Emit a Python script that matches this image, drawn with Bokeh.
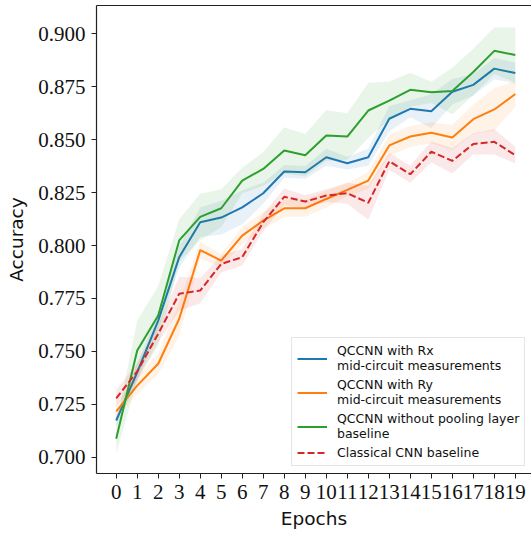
from bokeh.plotting import figure
from bokeh.models import (Range1d, FixedTicker, PrintfTickFormatter, Legend,
                          LegendItem, LinearAxis)
from bokeh.embed import file_html
from bokeh.resources import INLINE

epochs = list(range(20))

rx_mean = [0.7173, 0.7401, 0.7645, 0.7945, 0.8110, 0.8132, 0.8180, 0.8247, 0.8350, 0.8346,
           0.8417, 0.8389, 0.8417, 0.8599, 0.8646, 0.8635, 0.8727, 0.8759, 0.8836, 0.8815]
rx_std = [0.003, 0.004, 0.004, 0.005, 0.007, 0.008, 0.008, 0.005, 0.003, 0.003,
          0.004, 0.003, 0.004, 0.006, 0.004, 0.008, 0.006, 0.005, 0.005, 0.005]

ry_mean = [0.7216, 0.7338, 0.7441, 0.7654, 0.7978, 0.7929, 0.8047, 0.8118, 0.8176, 0.8176,
           0.8220, 0.8263, 0.8307, 0.8473, 0.8515, 0.8533, 0.8510, 0.8597, 0.8643, 0.8716]
ry_std = [0.003, 0.004, 0.005, 0.008, 0.004, 0.003, 0.004, 0.004, 0.004, 0.004,
          0.004, 0.003, 0.004, 0.005, 0.005, 0.005, 0.006, 0.007, 0.010, 0.006]

nopool_mean = [0.7087, 0.7504, 0.7669, 0.8024, 0.8135, 0.8176, 0.8307, 0.8362, 0.8449, 0.8427,
               0.8520, 0.8515, 0.8638, 0.8685, 0.8736, 0.8724, 0.8730, 0.8820, 0.8920, 0.8900]
nopool_std = [0.007, 0.014, 0.014, 0.010, 0.011, 0.009, 0.006, 0.008, 0.011, 0.010,
              0.012, 0.011, 0.013, 0.009, 0.008, 0.005, 0.011, 0.011, 0.011, 0.013]

cnn_mean = [0.7278, 0.7405, 0.7583, 0.7772, 0.7787, 0.7913, 0.7945, 0.8110, 0.8230, 0.8208,
            0.8236, 0.8247, 0.8202, 0.8398, 0.8337, 0.8443, 0.8400, 0.8480, 0.8490, 0.8427]
cnn_std = [0.004, 0.004, 0.004, 0.008, 0.006, 0.004, 0.004, 0.004, 0.004, 0.003,
           0.003, 0.005, 0.008, 0.004, 0.004, 0.005, 0.006, 0.005, 0.006, 0.004]

y_ticks = [0.700, 0.725, 0.750, 0.775, 0.800, 0.825, 0.850, 0.875, 0.900]

labels = ["QCCNN with Rx\nmid-circuit measurements",
          "QCCNN with Ry\nmid-circuit measurements",
          "QCCNN without pooling layer\nbaseline",
          "Classical CNN baseline"]
colors = ["#1f77b4", "#ff7f0e", "#2ca02c", "#d62728"]
dashes = ["solid", "solid", "solid", "7 3"]
means = [rx_mean, ry_mean, nopool_mean, cnn_mean]
stds = [rx_std, ry_std, nopool_std, cnn_std]

p = figure(width=531, height=536, output_backend="svg", toolbar_location=None,
           x_range=Range1d(-0.938, 19.77), y_range=Range1d(0.69225, 0.91343),
           min_border_left=96, min_border_right=0, min_border_top=5, min_border_bottom=63)
p.outline_line_color = None
p.xgrid.visible = False
p.ygrid.visible = False

items = []
for lab, c, d, m, s in zip(labels, colors, dashes, means, stds):
    lo = [a - b for a, b in zip(m, s)]
    hi = [a + b for a, b in zip(m, s)]
    p.varea(x=epochs, y1=lo, y2=hi, fill_color=c, fill_alpha=0.1)
    r = p.line(epochs, m, line_color=c, line_width=2, line_dash=d)
    items.append(LegendItem(label=lab, renderers=[r]))

for ax in (p.xaxis[0], p.yaxis[0]):
    ax.axis_line_color = "#222222"
    ax.axis_line_width = 1.2
    ax.major_tick_line_color = "#222222"
    ax.major_tick_out = 5
    ax.major_tick_in = 0
    ax.minor_tick_out = 0
    ax.minor_tick_in = 0
    ax.major_label_text_font = "Liberation Serif"
    ax.major_label_text_font_size = "21px"
    ax.major_label_text_color = "#111111"
    ax.axis_label_text_font = "DejaVu Sans"
    ax.axis_label_text_font_size = "18.5px"
    ax.axis_label_text_font_style = "normal"
    ax.axis_label_text_color = "#111111"

p.xaxis.ticker = FixedTicker(ticks=epochs)
p.xaxis.axis_label = "Epochs"
p.xaxis.major_label_standoff = 6
p.xaxis.axis_label_standoff = 6

p.yaxis.ticker = FixedTicker(ticks=y_ticks)
p.yaxis.formatter = PrintfTickFormatter(format="%.3f")
p.yaxis.axis_label = "Accuracy"
p.yaxis.major_label_standoff = 6
p.yaxis.axis_label_standoff = 8

top = LinearAxis(ticker=FixedTicker(ticks=[]), major_tick_out=0, major_tick_in=0,
                 minor_tick_out=0, minor_tick_in=0, major_label_text_font_size="0px",
                 axis_line_color="#222222", axis_line_width=1.2)
p.add_layout(top, "above")

legend = Legend(items=items, location=(195, 7), margin=0, padding=5, spacing=4,
                glyph_width=30, glyph_height=15, label_height=15, label_standoff=10,
                label_text_font="DejaVu Sans", label_text_font_size="12.5px",
                label_text_color="#111111",
                border_line_color="#cccccc", border_line_width=1,
                background_fill_color="white", background_fill_alpha=0.8)
p.add_layout(legend)

open("out.html", "w").write(file_html(p, INLINE))
